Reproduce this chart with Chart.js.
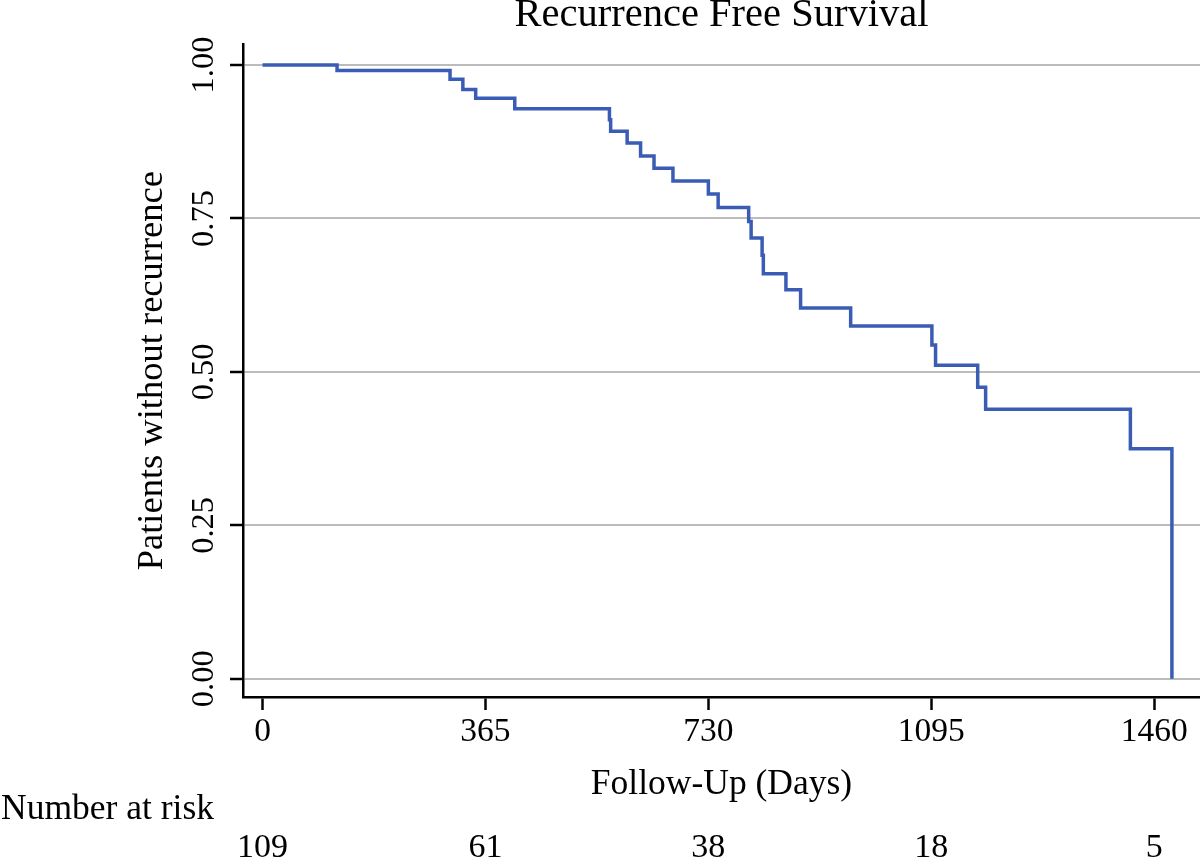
<!DOCTYPE html>
<html>
<head>
<meta charset="utf-8">
<script src="https://cdn.jsdelivr.net/npm/chart.js@4/dist/chart.umd.min.js"></script>
<style>
  html, body { margin: 0; padding: 0; background: #fff; }
  #km { display: block; }
</style>
</head>
<body>
<canvas id="km" width="1200" height="859"></canvas>
<script>
// Kaplan-Meier steps: day of each drop and survival after it
const days = [0, 122, 307, 328, 349, 413, 568, 570, 597, 619, 641, 672, 730, 746, 796, 800, 818, 820, 857, 881, 963, 1096, 1102, 1171, 1184, 1421, 1489];
const survival = [1.000, 0.991, 0.977, 0.960, 0.946, 0.929, 0.911, 0.892, 0.873, 0.852, 0.832, 0.811, 0.790, 0.768, 0.745, 0.718, 0.690, 0.660, 0.634, 0.604, 0.575, 0.544, 0.511, 0.475, 0.439, 0.375, 0.000];

// axis ticks and the number-at-risk row
const xTicks = [0, 365, 730, 1095, 1460];
const yTicks = [0, 0.25, 0.5, 0.75, 1];
const atRisk = [109, 61, 38, 18, 5];

const serif = "'Liberation Serif', 'Times New Roman', serif";

// draws "Number at risk" and the counts under each x tick
const riskTable = {
    id: 'riskTable',
    afterDraw(chart) {
        const ctx = chart.ctx;
        const xs = chart.scales.x;
        ctx.save();
        ctx.fillStyle = '#000';
        ctx.textBaseline = 'alphabetic';
        ctx.font = '35.5px ' + serif;
        ctx.textAlign = 'left';
        ctx.fillText('Number at risk', 1, 819);
        ctx.font = '34px ' + serif;
        ctx.textAlign = 'center';
        atRisk.forEach((n, i) => {
            ctx.fillText(String(n), xs.getPixelForValue(xTicks[i]), 857);
        });
        ctx.restore();
    }
};

new Chart(document.getElementById('km'), {
    type: 'line',
    data: {
        datasets: [{
            label: 'Recurrence free survival',
            data: days.map((d, i) => ({ x: d, y: survival[i] })),
            stepped: 'before',
            borderColor: '#3b5cb5',
            borderWidth: 3.5,
            pointRadius: 0,
            fill: false
        }]
    },
    options: {
        responsive: false,
        animation: false,
        layout: { padding: { left: 0, right: 0, top: 0, bottom: 52 } },
        plugins: {
            legend: { display: false },
            tooltip: { enabled: false },
            title: {
                display: true,
                text: 'Recurrence Free Survival',
                fullSize: false,
                color: '#000',
                font: { family: serif, size: 40.5, weight: 'normal', lineHeight: 0.75 },
                padding: { top: 0, bottom: 14 }
            }
        },
        scales: {
            x: {
                type: 'linear',
                min: -32,
                max: 1535,
                afterBuildTicks: s => { s.ticks = xTicks.map(v => ({ value: v })); },
                afterFit: s => { s.height = 110; },
                ticks: {
                    color: '#000',
                    padding: 2,
                    maxRotation: 0,
                    font: { family: serif, size: 33.5 },
                    callback: v => String(v)
                },
                grid: {
                    drawOnChartArea: false,
                    drawTicks: true,
                    tickLength: 13,
                    tickColor: '#000',
                    tickWidth: 2.5
                },
                border: { display: true, color: '#000', width: 2.5 },
                title: {
                    display: true,
                    text: 'Follow-Up (Days)',
                    color: '#000',
                    font: { family: serif, size: 35.5 },
                    padding: { top: 0, bottom: 1 }
                }
            },
            y: {
                type: 'linear',
                min: -0.0297,
                max: 1.0337,
                afterBuildTicks: s => { s.ticks = yTicks.map(v => ({ value: v })); },
                afterFit: s => { s.width = 243; },
                ticks: {
                    color: '#000',
                    padding: -3,
                    minRotation: 90,
                    maxRotation: 90,
                    crossAlign: 'center',
                    font: { family: serif, size: 32.5 },
                    callback: v => Number(v).toFixed(2)
                },
                grid: {
                    color: '#bcbcbc',
                    lineWidth: 2,
                    drawTicks: true,
                    tickLength: 13,
                    tickColor: '#000',
                    tickWidth: 2.5
                },
                border: { display: true, color: '#000', width: 2.5 },
                title: {
                    display: true,
                    text: 'Patients without recurrence',
                    color: '#000',
                    font: { family: serif, size: 36.5 },
                    padding: { top: 131, bottom: 0 }
                }
            }
        }
    },
    plugins: [riskTable]
});
</script>
</body>
</html>
